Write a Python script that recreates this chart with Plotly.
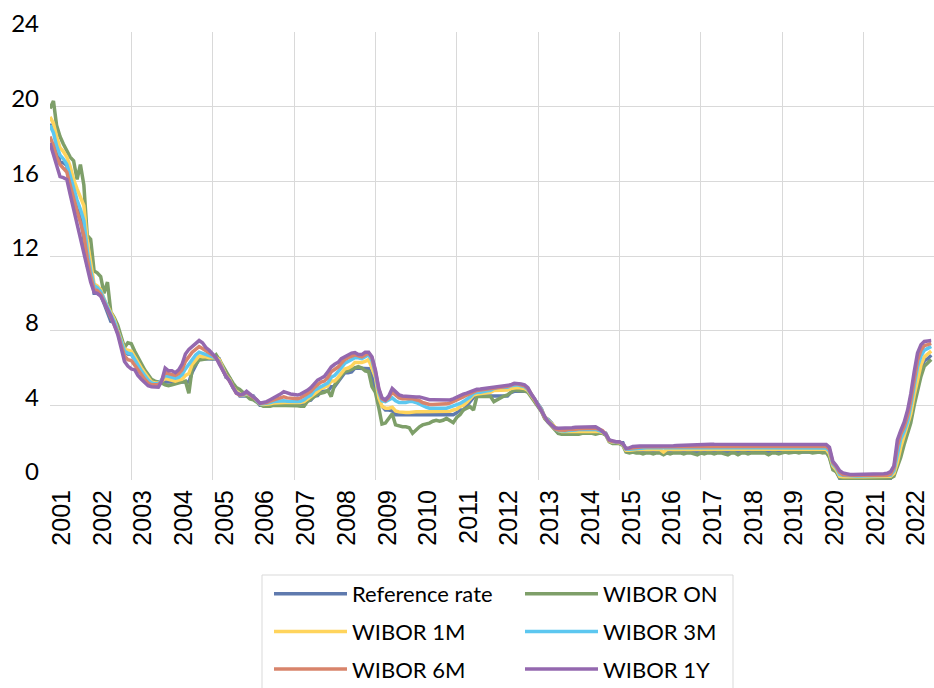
import pandas as pd
import plotly.graph_objects as go

# Monthly observations, January 2001 - September 2022 (per cent)
months = pd.date_range("2001-01-01", "2022-09-01", freq="MS")

years = list(range(2001, 2023))
year_labels = [str(y) for y in years]
y_ticks = [0, 4, 8, 12, 16, 20, 24]

reference_rate = [
    19.0, 19.0, 17.9, 17.0, 17.0, 16.85, 15.5, 15.21, 14.5, 14.21, 12.9, 11.5,
    11.45, 10.0, 10.0, 9.92, 9.47, 8.93, 8.5, 8.45, 7.92, 7.37, 6.98, 6.75,
    6.73, 6.48, 6.21, 5.94, 5.73, 5.46, 5.25, 5.25, 5.25, 5.25, 5.25, 5.25,
    5.25, 5.25, 5.25, 5.25, 5.25, 5.25, 5.77, 6.1, 6.5, 6.5, 6.5, 6.5,
    6.5, 6.5, 6.48, 5.95, 5.5, 5.48, 4.97, 4.75, 4.5, 4.5, 4.5, 4.5,
    4.5, 4.25, 4.0, 4.0, 4.0, 4.0, 4.0, 4.0, 4.0, 4.0, 4.0, 4.0,
    4.0, 4.0, 4.0, 4.04, 4.25, 4.28, 4.5, 4.52, 4.75, 4.75, 4.77, 5.0,
    5.01, 5.27, 5.54, 5.75, 5.75, 5.79, 6.0, 6.0, 6.0, 6.0, 5.96, 5.56,
    4.9, 4.22, 3.95, 3.75, 3.75, 3.7, 3.5, 3.5, 3.5, 3.5, 3.5, 3.5,
    3.5, 3.5, 3.5, 3.5, 3.5, 3.5, 3.5, 3.5, 3.5, 3.5, 3.5, 3.5,
    3.6, 3.75, 3.75, 3.96, 4.16, 4.43, 4.5, 4.5, 4.5, 4.5, 4.5, 4.5,
    4.5, 4.5, 4.5, 4.5, 4.68, 4.75, 4.75, 4.75, 4.75, 4.75, 4.56, 4.29,
    4.07, 3.8, 3.35, 3.25, 3.06, 2.79, 2.52, 2.5, 2.5, 2.5, 2.5, 2.5,
    2.5, 2.5, 2.5, 2.5, 2.5, 2.5, 2.5, 2.5, 2.5, 2.13, 2.0, 2.0,
    2.0, 2.0, 1.56, 1.5, 1.5, 1.5, 1.5, 1.5, 1.5, 1.5, 1.5, 1.5,
    1.5, 1.5, 1.5, 1.5, 1.5, 1.5, 1.5, 1.5, 1.5, 1.5, 1.5, 1.5,
    1.5, 1.5, 1.5, 1.5, 1.5, 1.5, 1.5, 1.5, 1.5, 1.5, 1.5, 1.5,
    1.5, 1.5, 1.5, 1.5, 1.5, 1.5, 1.5, 1.5, 1.5, 1.5, 1.5, 1.5,
    1.5, 1.5, 1.5, 1.5, 1.5, 1.5, 1.5, 1.5, 1.5, 1.5, 1.5, 1.5,
    1.5, 1.5, 1.27, 0.63, 0.46, 0.1, 0.1, 0.1, 0.1, 0.1, 0.1, 0.1,
    0.1, 0.1, 0.1, 0.1, 0.1, 0.1, 0.1, 0.1, 0.1, 0.42, 1.18, 1.62,
    2.19, 2.61, 3.31, 4.3, 5.13, 5.8, 6.39, 6.5, 6.69,
]

wibor_on = [
    19.9, 20.3, 19.0, 18.4, 18.0, 17.6, 17.3, 17.1, 16.1, 16.9, 15.8, 13.1,
    12.9, 11.2, 11.1, 10.9, 10.0, 10.6, 9.0, 8.7, 8.3, 7.7, 7.1, 7.35,
    7.3, 6.9, 6.6, 6.2, 5.9, 5.65, 5.4, 5.3, 5.25, 5.2, 5.1, 5.05,
    5.1, 5.15, 5.2, 5.25, 5.3, 4.65, 6.0, 6.2, 6.43, 6.45, 6.5, 6.52,
    6.5, 6.7, 6.45, 6.1, 5.75, 5.5, 5.2, 4.95, 4.85, 4.7, 4.56, 4.35,
    4.3, 4.15, 4.05, 3.95, 3.93, 3.95, 4.0, 4.0, 3.98, 4.0, 4.0, 3.97,
    4.0, 3.98, 3.95, 3.95, 4.2, 4.3, 4.45, 4.6, 4.65, 4.7, 4.8, 4.47,
    5.1, 5.3, 5.6, 5.8, 5.85, 5.95, 6.0, 6.07, 6.0, 5.85, 5.8, 5.0,
    4.7, 3.85, 3.0, 3.05, 3.3, 3.55, 2.95, 2.88, 2.85, 2.85, 2.8, 2.5,
    2.7, 2.85, 2.95, 3.0, 3.05, 3.15, 3.2, 3.15, 3.2, 3.3, 3.2, 3.07,
    3.35, 3.5, 3.75, 3.85, 3.93, 3.75, 4.47, 4.47, 4.47, 4.47, 4.47, 4.2,
    4.3, 4.45, 4.5, 4.56, 4.7, 4.83, 4.8, 4.8, 4.77, 4.7, 4.45, 4.2,
    3.95, 3.65, 3.3, 3.1, 2.95, 2.7, 2.5, 2.45, 2.45, 2.45, 2.45, 2.45,
    2.45, 2.5, 2.5, 2.5, 2.5, 2.45, 2.5, 2.5, 2.4, 2.05, 1.95, 1.95,
    1.95, 1.85, 1.5, 1.45, 1.5, 1.45, 1.45, 1.4, 1.45, 1.45, 1.4, 1.45,
    1.45, 1.35, 1.45, 1.4, 1.45, 1.45, 1.45, 1.4, 1.45, 1.45, 1.4, 1.35,
    1.45, 1.4, 1.45, 1.45, 1.4, 1.45, 1.45, 1.4, 1.35, 1.45, 1.45, 1.35,
    1.45, 1.45, 1.4, 1.45, 1.45, 1.45, 1.45, 1.45, 1.35, 1.45, 1.45, 1.4,
    1.45, 1.5, 1.45, 1.5, 1.5, 1.45, 1.5, 1.5, 1.5, 1.45, 1.5, 1.5,
    1.45, 1.5, 1.2, 0.55, 0.45, 0.12, 0.1, 0.08, 0.08, 0.08, 0.08, 0.08,
    0.08, 0.08, 0.08, 0.08, 0.08, 0.08, 0.08, 0.08, 0.1, 0.2, 0.7, 1.2,
    1.9, 2.45, 3.05, 4.0, 4.85, 5.55, 6.1, 6.3, 6.45,
]

wibor_1m = [
    19.45, 19.1, 18.4, 17.8, 17.6, 17.3, 16.8, 16.1, 15.6, 15.2, 14.7, 12.8,
    11.6, 10.5, 10.4, 10.2, 9.7, 9.3, 8.9, 8.6, 8.0, 7.5, 7.0, 6.95,
    6.9, 6.6, 6.3, 6.0, 5.75, 5.5, 5.25, 5.2, 5.2, 5.3, 5.45, 5.4,
    5.35, 5.3, 5.35, 5.4, 5.6, 5.7, 6.2, 6.45, 6.65, 6.6, 6.6, 6.55,
    6.55, 6.55, 6.45, 6.0, 5.6, 5.4, 5.0, 4.75, 4.6, 4.55, 4.6, 4.55,
    4.45, 4.25, 4.08, 4.05, 4.05, 4.08, 4.12, 4.13, 4.15, 4.18, 4.18, 4.17,
    4.15, 4.15, 4.15, 4.2, 4.35, 4.45, 4.65, 4.75, 4.9, 5.0, 5.05, 5.3,
    5.3, 5.5, 5.75, 5.95, 6.0, 6.1, 6.3, 6.3, 6.3, 6.35, 6.45, 6.0,
    5.5, 4.4, 3.95, 3.85, 3.85, 3.9, 3.7, 3.65, 3.62, 3.62, 3.62, 3.65,
    3.65, 3.65, 3.65, 3.65, 3.65, 3.65, 3.65, 3.65, 3.65, 3.66, 3.68, 3.75,
    3.8, 3.95, 4.0, 4.15, 4.35, 4.55, 4.6, 4.62, 4.65, 4.68, 4.7, 4.8,
    4.8, 4.8, 4.8, 4.82, 4.9, 4.95, 4.95, 4.93, 4.9, 4.8, 4.55, 4.3,
    4.05, 3.75, 3.4, 3.2, 3.05, 2.8, 2.65, 2.6, 2.6, 2.6, 2.6, 2.62,
    2.62, 2.62, 2.62, 2.62, 2.62, 2.62, 2.6, 2.55, 2.45, 2.1, 2.02, 2.02,
    2.0, 1.9, 1.6, 1.6, 1.63, 1.63, 1.63, 1.62, 1.63, 1.63, 1.63, 1.63,
    1.63, 1.5, 1.63, 1.64, 1.64, 1.64, 1.64, 1.64, 1.64, 1.64, 1.64, 1.64,
    1.64, 1.64, 1.64, 1.64, 1.64, 1.64, 1.64, 1.64, 1.64, 1.64, 1.64, 1.64,
    1.64, 1.64, 1.64, 1.64, 1.64, 1.64, 1.64, 1.64, 1.64, 1.64, 1.64, 1.64,
    1.65, 1.65, 1.65, 1.65, 1.65, 1.65, 1.65, 1.65, 1.65, 1.65, 1.65, 1.65,
    1.65, 1.65, 1.4, 0.75, 0.55, 0.2, 0.18, 0.17, 0.17, 0.17, 0.17, 0.17,
    0.17, 0.17, 0.17, 0.17, 0.17, 0.17, 0.17, 0.17, 0.2, 0.35, 0.95, 1.75,
    2.35, 2.85, 3.55, 4.55, 5.45, 6.15, 6.6, 6.75, 6.9,
]

wibor_3m = [
    19.0, 18.6, 17.9, 17.4, 17.2, 16.9, 16.3, 15.6, 15.0, 14.5, 13.9, 12.3,
    11.2, 10.4, 10.3, 10.1, 9.65, 9.2, 8.85, 8.5, 7.95, 7.35, 6.9, 6.8,
    6.75, 6.45, 6.15, 5.85, 5.6, 5.35, 5.2, 5.15, 5.15, 5.35, 5.6, 5.55,
    5.5, 5.45, 5.5, 5.65, 5.95, 6.2, 6.5, 6.7, 6.85, 6.8, 6.75, 6.7,
    6.6, 6.5, 6.35, 5.95, 5.55, 5.35, 4.95, 4.7, 4.55, 4.55, 4.65, 4.55,
    4.45, 4.25, 4.08, 4.08, 4.1, 4.15, 4.2, 4.22, 4.23, 4.25, 4.22, 4.2,
    4.2, 4.2, 4.22, 4.3, 4.45, 4.55, 4.8, 4.9, 5.05, 5.1, 5.2, 5.5,
    5.6, 5.8, 6.0, 6.25, 6.35, 6.45, 6.55, 6.55, 6.5, 6.6, 6.7, 6.4,
    5.7, 4.7, 4.25, 4.2, 4.3, 4.4, 4.25, 4.15, 4.15, 4.15, 4.2, 4.2,
    4.15, 4.05, 3.95, 3.9, 3.85, 3.85, 3.85, 3.82, 3.82, 3.85, 3.9, 3.95,
    4.0, 4.1, 4.2, 4.3, 4.45, 4.65, 4.7, 4.7, 4.75, 4.78, 4.8, 4.9,
    4.95, 4.95, 4.95, 4.97, 5.05, 5.1, 5.1, 5.05, 5.0, 4.85, 4.6, 4.32,
    4.05, 3.75, 3.35, 3.2, 2.98, 2.75, 2.65, 2.62, 2.62, 2.65, 2.65, 2.68,
    2.7, 2.7, 2.71, 2.72, 2.72, 2.72, 2.65, 2.6, 2.45, 2.12, 2.05, 2.05,
    2.02, 1.92, 1.65, 1.65, 1.67, 1.7, 1.72, 1.73, 1.73, 1.73, 1.73, 1.73,
    1.72, 1.72, 1.72, 1.72, 1.72, 1.72, 1.72, 1.72, 1.72, 1.72, 1.72, 1.73,
    1.73, 1.73, 1.73, 1.73, 1.73, 1.73, 1.73, 1.73, 1.73, 1.73, 1.73, 1.73,
    1.73, 1.73, 1.73, 1.73, 1.73, 1.73, 1.73, 1.73, 1.73, 1.73, 1.73, 1.73,
    1.73, 1.73, 1.73, 1.73, 1.73, 1.73, 1.73, 1.73, 1.73, 1.73, 1.72, 1.72,
    1.72, 1.72, 1.55, 0.85, 0.65, 0.3, 0.25, 0.23, 0.22, 0.21, 0.21, 0.21,
    0.21, 0.21, 0.21, 0.21, 0.21, 0.21, 0.21, 0.21, 0.25, 0.5, 1.4, 2.2,
    2.6, 3.15, 3.95, 5.1, 6.05, 6.65, 6.95, 7.05, 7.15,
]

wibor_6m = [
    18.4, 17.9, 17.3, 16.9, 16.7, 16.5, 15.8, 15.0, 14.4, 13.8, 13.1, 11.9,
    10.9, 10.2, 10.15, 9.95, 9.55, 9.15, 8.8, 8.4, 7.9, 7.25, 6.65, 6.45,
    6.4, 6.15, 5.9, 5.65, 5.4, 5.2, 5.1, 5.1, 5.1, 5.3, 5.8, 5.7,
    5.65, 5.6, 5.7, 5.9, 6.35, 6.6, 6.85, 7.0, 7.15, 7.05, 6.95, 6.85,
    6.7, 6.5, 6.3, 5.9, 5.55, 5.3, 4.95, 4.65, 4.55, 4.58, 4.7, 4.58,
    4.45, 4.28, 4.1, 4.12, 4.15, 4.22, 4.3, 4.35, 4.4, 4.45, 4.4, 4.38,
    4.35, 4.35, 4.4, 4.5, 4.6, 4.75, 4.95, 5.1, 5.25, 5.3, 5.5, 5.8,
    5.9, 6.05, 6.25, 6.45, 6.55, 6.65, 6.7, 6.65, 6.6, 6.7, 6.8, 6.55,
    5.8, 4.85, 4.35, 4.25, 4.4, 4.7, 4.55, 4.4, 4.35, 4.35, 4.35, 4.35,
    4.3, 4.25, 4.15, 4.1, 4.05, 4.05, 4.05, 4.05, 4.05, 4.08, 4.12, 4.2,
    4.25, 4.35, 4.45, 4.55, 4.65, 4.75, 4.8, 4.82, 4.85, 4.88, 4.9, 4.95,
    4.98, 4.98, 5.0, 5.02, 5.08, 5.15, 5.15, 5.12, 5.05, 4.9, 4.6, 4.32,
    4.0, 3.7, 3.35, 3.15, 2.95, 2.75, 2.68, 2.66, 2.67, 2.7, 2.7, 2.72,
    2.75, 2.76, 2.78, 2.78, 2.78, 2.77, 2.72, 2.65, 2.45, 2.13, 2.06, 2.05,
    2.04, 1.93, 1.68, 1.7, 1.73, 1.76, 1.78, 1.78, 1.78, 1.78, 1.78, 1.78,
    1.78, 1.77, 1.78, 1.78, 1.79, 1.79, 1.8, 1.8, 1.8, 1.8, 1.8, 1.81,
    1.81, 1.81, 1.81, 1.81, 1.81, 1.81, 1.81, 1.81, 1.81, 1.81, 1.81, 1.81,
    1.81, 1.81, 1.81, 1.81, 1.81, 1.81, 1.81, 1.81, 1.81, 1.81, 1.81, 1.81,
    1.81, 1.81, 1.81, 1.81, 1.81, 1.81, 1.81, 1.81, 1.81, 1.81, 1.8, 1.8,
    1.8, 1.8, 1.65, 0.93, 0.72, 0.4, 0.28, 0.26, 0.25, 0.25, 0.25, 0.25,
    0.25, 0.25, 0.25, 0.25, 0.25, 0.25, 0.25, 0.25, 0.32, 0.65, 1.8, 2.45,
    2.85, 3.45, 4.25, 5.45, 6.4, 6.95, 7.2, 7.25, 7.32,
]

wibor_1y = [
    18.05, 17.4, 16.8, 16.25, 16.2, 16.1, 15.3, 14.5, 13.8, 13.1, 12.3, 11.5,
    10.6, 10.05, 10.0, 9.85, 9.5, 9.1, 8.8, 8.3, 7.8, 7.1, 6.35, 6.1,
    5.95, 5.9, 5.6, 5.4, 5.2, 5.05, 5.0, 5.0, 4.97, 5.3, 6.0, 5.85,
    5.85, 5.75, 5.9, 6.2, 6.75, 7.0, 7.15, 7.3, 7.47, 7.35, 7.1, 6.95,
    6.75, 6.55, 6.2, 5.85, 5.55, 5.3, 4.95, 4.65, 4.58, 4.6, 4.75, 4.6,
    4.47, 4.3, 4.11, 4.15, 4.2, 4.3, 4.4, 4.47, 4.6, 4.73, 4.65, 4.61,
    4.58, 4.55, 4.6, 4.7, 4.8, 4.95, 5.15, 5.35, 5.45, 5.55, 5.8, 6.05,
    6.2, 6.3, 6.5, 6.62, 6.7, 6.8, 6.83, 6.72, 6.72, 6.85, 6.85, 6.6,
    5.9, 4.9, 4.4, 4.3, 4.5, 4.9, 4.75, 4.56, 4.5, 4.48, 4.47, 4.47,
    4.45, 4.45, 4.4, 4.35, 4.3, 4.3, 4.29, 4.28, 4.28, 4.28, 4.29, 4.35,
    4.45, 4.5, 4.6, 4.65, 4.73, 4.8, 4.86, 4.88, 4.9, 4.93, 4.95, 5.0,
    5.0, 5.0, 5.02, 5.05, 5.1, 5.18, 5.18, 5.15, 5.1, 4.95, 4.6, 4.35,
    4.0, 3.7, 3.4, 3.1, 2.95, 2.8, 2.77, 2.77, 2.78, 2.78, 2.8, 2.82,
    2.82, 2.84, 2.85, 2.86, 2.86, 2.85, 2.75, 2.6, 2.45, 2.15, 2.1, 2.05,
    2.05, 1.95, 1.7, 1.72, 1.8, 1.83, 1.82, 1.82, 1.82, 1.8, 1.8, 1.8,
    1.8, 1.8, 1.8, 1.82, 1.83, 1.85, 1.86, 1.88, 1.88, 1.9, 1.9, 1.92,
    1.93, 1.93, 1.93, 1.92, 1.91, 1.91, 1.9, 1.9, 1.9, 1.9, 1.9, 1.9,
    1.9, 1.9, 1.9, 1.9, 1.9, 1.9, 1.9, 1.91, 1.91, 1.91, 1.91, 1.91,
    1.91, 1.91, 1.91, 1.91, 1.91, 1.91, 1.91, 1.91, 1.91, 1.91, 1.91, 1.91,
    1.92, 1.9, 1.75, 1.0, 0.78, 0.5, 0.38, 0.33, 0.3, 0.3, 0.3, 0.3,
    0.3, 0.3, 0.3, 0.3, 0.3, 0.32, 0.34, 0.36, 0.45, 0.75, 2.15, 2.65,
    3.1, 3.75, 4.6, 5.8, 6.8, 7.25, 7.42, 7.45, 7.47,
]

# name, values, colour, legend column
series = [
    ("Reference rate", reference_rate, "#5F7AAE", "legend"),
    ("WIBOR ON", wibor_on, "#7E9F69", "legend2"),
    ("WIBOR 1M", wibor_1m, "#FFD45C", "legend"),
    ("WIBOR 3M", wibor_3m, "#5CC7F0", "legend2"),
    ("WIBOR 6M", wibor_6m, "#D8846B", "legend"),
    ("WIBOR 1Y", wibor_1y, "#9468AF", "legend2"),
]

for name, vals, _, _ in series:
    assert len(vals) == len(months), (name, len(vals))

fig = go.Figure()

# empty trace that registers the overlay axes carrying the grid
fig.add_trace(go.Scatter(x=[], y=[], xaxis="x2", yaxis="y2",
                         showlegend=False, hoverinfo="skip"))

for name, vals, color, legend_id in series:
    fig.add_trace(go.Scatter(
        x=months, y=vals, mode="lines", name=name,
        line=dict(color=color, width=3.5),
        legend=legend_id, legendgroup=name,
    ))

W, H = 934, 688
M_L, M_R, M_T, M_B = 50, 0, 32, 208
plot_w, plot_h = W - M_L - M_R, H - M_T - M_B


def px_x(px):
    return (px - M_L) / plot_w


def px_y(py):
    return (H - M_B - py) / plot_h


grid = "#D9D9D9"
tick_dates = [pd.Timestamp(f"{y}-01-01") for y in years]
legend_font = dict(family="Lato", size=22, color="black")

fig.update_layout(
    width=W, height=H,
    margin=dict(l=M_L, r=M_R, t=M_T, b=M_B, autoexpand=False),
    paper_bgcolor="white", plot_bgcolor="white",
    hovermode=False,
    xaxis=dict(
        type="date", range=["2001-01-01", "2022-09-26"],
        tickmode="array", tickvals=tick_dates, ticktext=year_labels,
        tickangle=-90, ticks="", showgrid=False, zeroline=False, showline=False,
        tickfont=dict(family="Liberation Sans", size=25, color="black"),
        ticklabelshift=12, ticklabelstandoff=4,
    ),
    xaxis2=dict(
        type="date", overlaying="x", matches="x", anchor="y2",
        tickmode="array", tickvals=tick_dates[2::2],
        showticklabels=False, ticks="", showgrid=True, gridcolor=grid, gridwidth=1,
        zeroline=False, showline=False,
    ),
    yaxis=dict(
        range=[0, 24], tickmode="array", tickvals=y_ticks,
        ticks="", showgrid=False, zeroline=False, showline=False,
        tickfont=dict(family="Lato", size=24, color="black"),
        ticklabelshift=-8, ticklabelstandoff=10,
    ),
    yaxis2=dict(
        overlaying="y", matches="y", anchor="x2", side="left",
        tickmode="array", tickvals=y_ticks[:-1],
        showticklabels=False, ticks="", showgrid=True, gridcolor=grid, gridwidth=1,
        zeroline=False, showline=False,
    ),
    legend=dict(
        x=px_x(269), y=px_y(573), xanchor="left", yanchor="top",
        orientation="v", font=legend_font, bgcolor="rgba(0,0,0,0)",
        borderwidth=0, itemwidth=73, tracegroupgap=6,
    ),
    legend2=dict(
        x=px_x(520), y=px_y(573), xanchor="left", yanchor="top",
        orientation="v", font=legend_font, bgcolor="rgba(0,0,0,0)",
        borderwidth=0, itemwidth=73, tracegroupgap=6,
    ),
    shapes=[dict(
        type="rect", xref="paper", yref="paper",
        x0=px_x(262), x1=px_x(733), y0=px_y(575), y1=px_y(710),
        line=dict(color=grid, width=1), fillcolor="rgba(0,0,0,0)", layer="below",
    )],
)

fig.write_html("out.html")
